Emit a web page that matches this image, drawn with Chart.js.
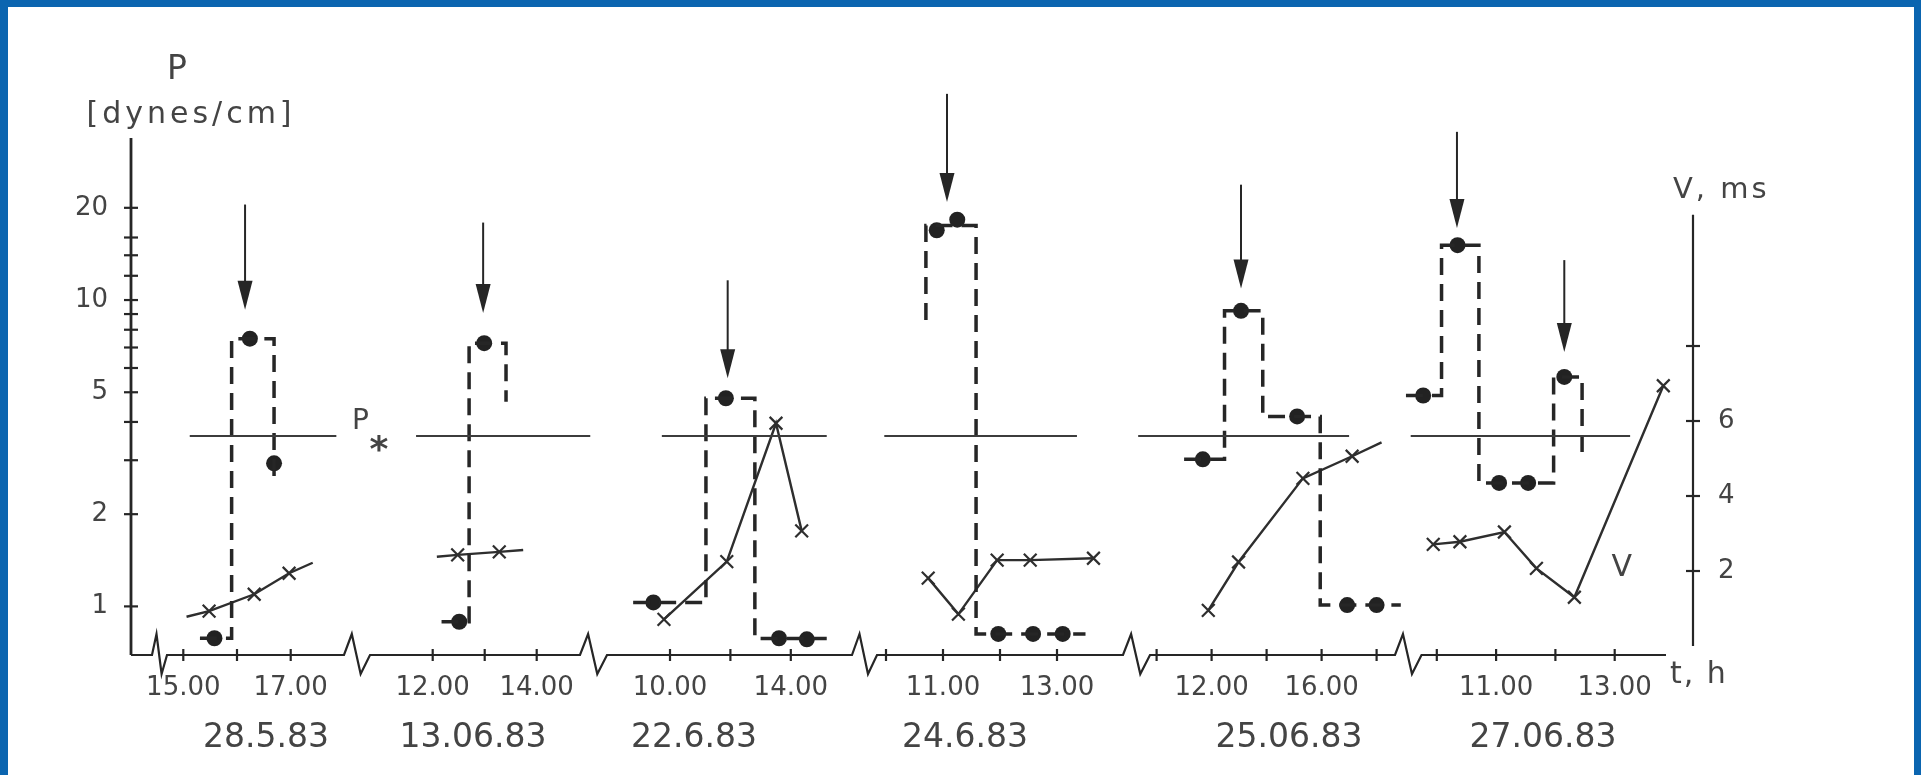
<!DOCTYPE html>
<html>
<head>
<meta charset="utf-8">
<script src="https://cdn.jsdelivr.net/npm/chart.js@4.4.1/dist/chart.umd.min.js"></script>
<style>
  html, body { margin: 0; padding: 0; background: #0b65b0; overflow: hidden; }
  #frame { position: absolute; left: 8px; top: 7px; width: 1906px; height: 768px; background: #fff; }
</style>
</head>
<body>
<div id="frame"><canvas id="chart" width="1906" height="768"></canvas></div>
<script>
const FONT = 'DejaVu Sans';
const INK = '#262626';
const TEXT = '#444444';

// values: hours of day, P in dynes/cm, V in ms
const dates = ['28.5.83', '13.06.83', '22.6.83', '24.6.83', '25.06.83', '27.06.83'];
const hourTicks = [[15, 16, 17], [12, 13, 14], [10, 12, 14], [10, 11, 12, 13], [10, 12, 14, 16, 18], [10, 11, 12, 13]];
const hourLabels = [[15, 17], [12, 14], [10, 14], [11, 13], [12, 16], [11, 13]];

const pStar = 3.6;
const pStarSpan = [[15.12, 17.85], [11.68, 15.03], [9.73, 15.19], [9.97, 13.35], [9.33, 17.0], [9.56, 13.26]];

// dashed step line of P (level changes)
const pStep = [
  [[15.31, 0.787], [15.90, 7.48], [16.69, 2.93], [16.69, 2.53]],
  [[12.17, 0.891], [12.70, 7.23], [13.41, 4.66]],
  [[8.78, 1.03], [11.19, 4.78], [12.81, 0.785], [15.19, 0.785]],
  [[10.70, 8.61], [10.70, 17.5], [11.58, 0.813], [13.50, 0.813]],
  [[11.0, 3.02], [12.47, 9.22], [13.86, 4.17], [15.95, 1.01], [18.88, 1.01]],
  [[9.48, 4.88], [10.08, 15.1], [10.71, 2.53], [11.97, 5.61], [12.45, 3.11]]
];
// measured P (dots)
const pDots = [
  [[15.58, 0.787], [16.24, 7.48], [16.69, 2.93]],
  [[12.51, 0.891], [12.99, 7.23]],
  [[9.45, 1.03], [11.85, 4.78], [13.61, 0.787], [14.53, 0.781]],
  [[10.89, 16.9], [11.25, 18.3], [11.97, 0.813], [12.58, 0.813], [13.10, 0.813]],
  [[11.68, 3.02], [13.07, 9.22], [15.11, 4.17], [16.93, 1.01], [18.0, 1.01]],
  [[9.77, 4.88], [10.35, 15.1], [11.05, 2.53], [11.54, 2.53], [12.15, 5.61]]
];
// V line and V measurements (crosses)
const vLine = [
  [[15.06, 0.78], [15.48, 0.93], [16.32, 1.38], [16.97, 1.94], [17.41, 2.22]],
  [[12.08, 2.38], [12.48, 2.43], [13.28, 2.51], [13.74, 2.56]],
  [[9.80, 0.71], [11.88, 2.25], [13.51, 5.94], [14.36, 3.07]],
  [[10.74, 1.81], [11.27, 0.85], [11.95, 2.29], [12.53, 2.29], [13.64, 2.34]],
  [[11.88, 0.95], [12.98, 2.24], [15.32, 4.47], [17.11, 5.06], [18.18, 5.43]],
  [[9.94, 2.71], [10.39, 2.78], [11.14, 3.04], [11.68, 2.07], [12.32, 1.30], [13.82, 6.94]]
];
const vMarks = [
  [[15.48, 0.93], [16.32, 1.38], [16.97, 1.94]],
  [[12.48, 2.43], [13.28, 2.51]],
  [[9.80, 0.71], [11.88, 2.25], [13.51, 5.94], [14.36, 3.07]],
  [[10.74, 1.81], [11.27, 0.85], [11.95, 2.29], [12.53, 2.29], [13.64, 2.34]],
  [[11.88, 0.95], [12.98, 2.24], [15.32, 4.47], [17.11, 5.06]],
  [[9.94, 2.71], [10.39, 2.78], [11.14, 3.04], [11.68, 2.07], [12.32, 1.30], [13.82, 6.94]]
];
// arrows: hour, P at top, P at tip
const arrows = [
  [[16.15, 20.5, 9.29]],
  [[12.97, 17.9, 9.08]],
  [[11.91, 11.6, 5.56]],
  [[11.07, 47.1, 20.9]],
  [[13.07, 23.8, 10.9]],
  [[10.34, 35.4, 17.2], [12.15, 13.5, 6.77]]
];

const pTicks = [1, 2, 3, 4, 5, 6, 7, 8, 9, 10, 12, 14, 16, 20];
const pLabelled = [1, 2, 5, 10, 20];
const vTicks = [2, 4, 6, 8];
const vLabelled = [2, 4, 6];

// layout of the broken time axis (in reference pixels)
const panelAxis = [
  { h0: 15, x0: 183.3, k: 53.7 },
  { h0: 12, x0: 432.7, k: 52.0 },
  { h0: 10, x0: 670, k: 30.2 },
  { h0: 10, x0: 886, k: 57.0 },
  { h0: 10, x0: 1156.6, k: 27.5 },
  { h0: 10, x0: 1436.8, k: 59.3 }
];
const baseSegs = [[131, 152], [167, 344], [370, 580], [607, 852], [877, 1123], [1150, 1395], [1421.5, 1666]];
const dateX = [266, 473, 694, 965, 1289, 1543];

function gx(p, h) {
  const a = panelAxis[p];
  return a.x0 + (h - a.h0) * a.k;
}
const pts = (p, list) => list.map(([h, v]) => ({ x: gx(p, h), y: v }));

const timeTicks = [];
hourLabels.forEach((hs, p) => hs.forEach(h => timeTicks.push({ x: gx(p, h), label: h + '.00' })));

const datasets = [];
dates.forEach((d, p) => {
  datasets.push({
    data: pts(p, pStarSpan[p].map(h => [h, pStar])),
    borderColor: '#3c3c3c', borderWidth: 2, pointRadius: 0, yAxisID: 'y'
  });
  datasets.push({
    data: pts(p, pStep[p]), stepped: true, borderDash: [17, 9],
    borderColor: INK, borderWidth: 3.5, pointRadius: 0, yAxisID: 'y'
  });
  datasets.push({
    data: pts(p, vLine[p]), borderColor: '#2e2e2e', borderWidth: 2.4, pointRadius: 0, yAxisID: 'y2'
  });
  datasets.push({
    data: pts(p, vMarks[p]), showLine: false, pointStyle: 'crossRot', pointRadius: 9,
    pointBorderColor: '#2e2e2e', pointBorderWidth: 2.2, yAxisID: 'y2'
  });
  datasets.push({
    data: pts(p, pDots[p]), showLine: false, pointRadius: 8,
    pointBackgroundColor: '#222222', pointBorderWidth: 0, yAxisID: 'y'
  });
});

function label(ctx, s, x, y, size, align, spacing) {
  ctx.font = size + 'px "' + FONT + '"';
  ctx.textAlign = align;
  ctx.textBaseline = 'alphabetic';
  ctx.letterSpacing = (spacing || 0) + 'px';
  ctx.fillText(s, x, y);
  ctx.letterSpacing = '0px';
}

const sketch = {
  id: 'sketch',
  afterDraw(chart) {
    const { ctx, chartArea: area } = chart;
    const { x, y, y2 } = chart.scales;
    const base = area.bottom;
    ctx.save();
    ctx.strokeStyle = INK;
    ctx.fillStyle = INK;

    // P axis
    ctx.lineWidth = 2.8;
    ctx.beginPath();
    ctx.moveTo(area.left, base);
    ctx.lineTo(area.left, area.top);
    ctx.stroke();
    ctx.lineWidth = 2.2;
    pTicks.forEach(v => {
      const py = y.getPixelForValue(v);
      ctx.beginPath();
      ctx.moveTo(area.left - 7, py);
      ctx.lineTo(area.left + 7, py);
      ctx.stroke();
    });

    // V axis
    ctx.beginPath();
    ctx.moveTo(area.right, y2.getPixelForValue(0));
    ctx.lineTo(area.right, y2.getPixelForValue(11.5));
    ctx.stroke();
    vTicks.forEach(v => {
      const py = y2.getPixelForValue(v);
      ctx.beginPath();
      ctx.moveTo(area.right - 7, py);
      ctx.lineTo(area.right + 7, py);
      ctx.stroke();
    });

    // broken time axis
    ctx.beginPath();
    baseSegs.forEach(([a, b], i) => {
      const pa = x.getPixelForValue(a), pb = x.getPixelForValue(b);
      if (i === 0) ctx.moveTo(pa, base); else ctx.lineTo(pa, base);
      ctx.lineTo(pb, base);
      if (i < baseSegs.length - 1) {
        const w = x.getPixelForValue(baseSegs[i + 1][0]) - pb;
        ctx.lineTo(pb + 0.3 * w, base - 21);
        ctx.lineTo(pb + 0.64 * w, base + 19);
      }
    });
    ctx.stroke();
    hourTicks.forEach((hs, p) => hs.forEach(h => {
      const px = x.getPixelForValue(gx(p, h));
      ctx.beginPath();
      ctx.moveTo(px, base - 6);
      ctx.lineTo(px, base + 6);
      ctx.stroke();
    }));

    // arrows
    ctx.lineWidth = 2;
    arrows.forEach((list, p) => list.forEach(([h, top, tip]) => {
      const px = x.getPixelForValue(gx(p, h));
      const y1 = y.getPixelForValue(top), yt = y.getPixelForValue(tip);
      ctx.beginPath();
      ctx.moveTo(px, y1);
      ctx.lineTo(px, yt - 24);
      ctx.stroke();
      ctx.beginPath();
      ctx.moveTo(px - 7.5, yt - 29);
      ctx.lineTo(px + 7.5, yt - 29);
      ctx.lineTo(px, yt);
      ctx.closePath();
      ctx.fill();
    }));

    // texts
    ctx.fillStyle = TEXT;
    label(ctx, 'P', area.left + 46, 72, 33, 'center');
    label(ctx, '[dynes/cm]', area.left + 60, 116, 30, 'center', 4);
    label(ctx, 'V, ms', area.right - 20, 191, 29, 'left', 3);
    label(ctx, 't, h', x.getPixelForValue(baseSegs[baseSegs.length - 1][1]) + 4, 676, 30, 'left', 2);
    const psx = x.getPixelForValue(baseSegs[1][1]) + 8;
    const psy = y.getPixelForValue(pStar);
    label(ctx, 'P', psx, psy - 7, 28, 'left');
    ctx.font = 'bold 36px "' + FONT + '"';
    ctx.textAlign = 'center';
    ctx.fillText('*', psx + 27, psy + 25);
    label(ctx, 'V', x.getPixelForValue(gx(5, 13.12)), y2.getPixelForValue(2.16) + 11, 30, 'center');
    ctx.restore();
  }
};

new Chart('chart', {
  type: 'line',
  data: { datasets: datasets },
  options: {
    responsive: false,
    animation: false,
    devicePixelRatio: 1,
    layout: { padding: { top: 131, left: 0, right: 0, bottom: 0 } },
    plugins: { legend: { display: false }, tooltip: { enabled: false } },
    scales: {
      x: {
        type: 'linear', position: 'bottom', weight: 0, min: 131, max: 1693,
        grid: { display: false }, border: { display: false },
        afterBuildTicks: s => { s.ticks = timeTicks.map(t => ({ value: t.x })); },
        afterFit: s => { s.height = 52; },
        ticks: {
          autoSkip: false, maxRotation: 0, padding: 10, color: TEXT,
          font: { family: FONT, size: 26 },
          callback: (v, i) => timeTicks[i].label
        }
      },
      xd: {
        type: 'linear', position: 'bottom', weight: 1, min: 131, max: 1693,
        grid: { display: false }, border: { display: false },
        afterBuildTicks: s => { s.ticks = dateX.map(v => ({ value: v })); },
        afterFit: s => { s.height = 68; },
        ticks: {
          autoSkip: false, maxRotation: 0, padding: 4, color: TEXT,
          font: { family: FONT, size: 33 },
          callback: (v, i) => dates[i]
        }
      },
      y: {
        type: 'logarithmic', position: 'left', min: 0.694, max: 33.8,
        grid: { display: false }, border: { display: false },
        afterBuildTicks: s => { s.ticks = pTicks.map(v => ({ value: v })); },
        afterFit: s => { s.width = 123; },
        ticks: {
          autoSkip: false, padding: 15, color: TEXT,
          font: { family: FONT, size: 26 },
          callback: v => pLabelled.includes(v) ? String(v) : ''
        }
      },
      y2: {
        type: 'linear', position: 'right', min: -0.24, max: 13.547,
        grid: { display: false }, border: { display: false },
        afterBuildTicks: s => { s.ticks = vTicks.map(v => ({ value: v })); },
        afterFit: s => { s.width = 221; },
        ticks: {
          autoSkip: false, padding: 17, color: TEXT,
          font: { family: FONT, size: 26 },
          callback: v => vLabelled.includes(v) ? String(v) : ''
        }
      }
    }
  },
  plugins: [sketch]
});
</script>
</body>
</html>
